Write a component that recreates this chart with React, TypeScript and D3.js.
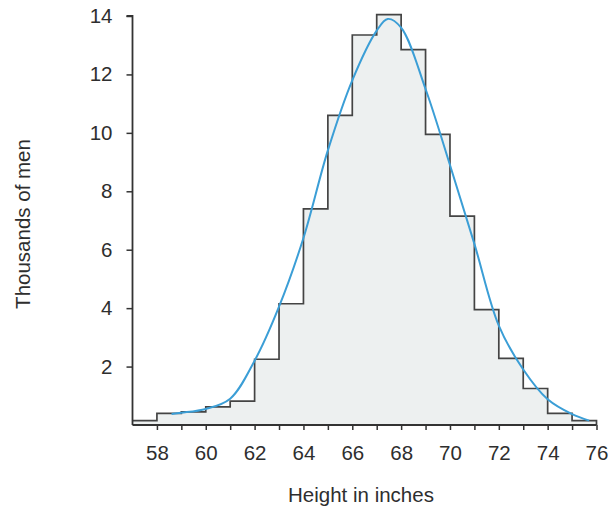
import React, { useRef, useEffect } from 'react';
import * as d3 from 'd3';

// histogram bins: lower edge (inches) and count (thousands of men)
const binStarts = [57, 58, 59, 60, 61, 62, 63, 64, 65, 66, 67, 68, 69, 70, 71, 72, 73, 74, 75];
const binCounts = [0.15, 0.4, 0.45, 0.62, 0.82, 2.25, 4.15, 7.4, 10.6, 13.35, 14.05, 12.85, 9.95, 7.15, 3.95, 2.28, 1.25, 0.4, 0.15];

// fitted normal curve
const curveX = [58.6, 59, 60, 61, 62, 63, 64, 65, 66, 67, 67.45, 68, 69, 70, 71, 72, 73, 74, 75, 75.7];
const curveY = [0.38, 0.42, 0.55, 0.9, 2.2, 4.05, 6.4, 9.4, 11.8, 13.5, 13.9, 13.6, 11.5, 8.9, 6.2, 3.4, 1.9, 0.88, 0.37, 0.15];

const xTicks = [58, 59, 60, 61, 62, 63, 64, 65, 66, 67, 68, 69, 70, 71, 72, 73, 74, 75, 76];
const xLabels = [58, 60, 62, 64, 66, 68, 70, 72, 74, 76];
const yTicks = [2, 4, 6, 8, 10, 12, 14];

const W = 613;
const H = 511;
const FONT = 'Liberation Sans, Arial, sans-serif';
const FS = '20.5px';
const INK = '#2e2e2e';

const App: React.FC = () => {
  const svgRef = useRef<SVGSVGElement | null>(null);

  useEffect(() => {
    if (!svgRef.current) return;
    const svg = d3.select(svgRef.current);
    svg.selectAll('*').remove();

    const x = d3.scaleLinear().domain([57, 76]).range([132.5, 596.5]);
    const y = d3.scaleLinear().domain([0, 14]).range([425, 16]);

    const steps: [number, number][] = binStarts.map((b, i) => [b, binCounts[i]]);
    steps.push([76, binCounts[binCounts.length - 1]]);

    // shaded area under the histogram
    const area = d3.area<[number, number]>()
      .x(d => x(d[0]))
      .y0(y(0))
      .y1(d => y(d[1]))
      .curve(d3.curveStepAfter);
    svg.append('path')
      .datum(steps)
      .attr('d', area)
      .attr('fill', '#edf0f0');

    // histogram outline
    const outline: [number, number][] = [...steps, [76, 0]];
    const stepLine = d3.line<[number, number]>()
      .x(d => x(d[0]))
      .y(d => y(d[1]))
      .curve(d3.curveStepAfter);
    svg.append('path')
      .datum(outline)
      .attr('d', stepLine)
      .attr('fill', 'none')
      .attr('stroke', '#444')
      .attr('stroke-width', 1.7);

    // normal curve
    const pts: [number, number][] = curveX.map((v, i) => [v, curveY[i]]);
    const smooth = d3.line<[number, number]>()
      .x(d => x(d[0]))
      .y(d => y(d[1]))
      .curve(d3.curveCatmullRom.alpha(0.5));
    svg.append('path')
      .datum(pts)
      .attr('d', smooth)
      .attr('fill', 'none')
      .attr('stroke', '#3b9ed6')
      .attr('stroke-width', 2);

    // y axis
    const yAxis = d3.axisLeft(y).tickValues(yTicks).tickSize(6).tickPadding(14).tickFormat(d3.format('d'));
    const yg = svg.append('g')
      .attr('transform', `translate(${x(57)},0)`)
      .call(yAxis);
    yg.select('.domain').attr('d', `M-6,${y(14)}H0V${y(0)}`).attr('stroke', '#333').attr('stroke-width', 1.8);
    yg.selectAll('.tick line').attr('stroke', '#333').attr('stroke-width', 1.5);
    yg.selectAll('.tick text')
      .attr('fill', INK)
      .style('font-family', FONT)
      .style('font-size', FS);

    // x axis
    const xAxis = d3.axisBottom(x).tickValues(xTicks).tickSize(5).tickPadding(15)
      .tickFormat((d: any) => (xLabels.includes(d) ? String(d) : ''));
    const xg = svg.append('g')
      .attr('transform', `translate(0,${y(0)})`)
      .call(xAxis);
    xg.select('.domain').attr('d', `M${x(57)},0H${x(76)}`).attr('stroke', '#333').attr('stroke-width', 1.8);
    xg.selectAll('.tick line').attr('stroke', '#333').attr('stroke-width', 1.5);
    xg.selectAll('.tick text')
      .attr('fill', INK)
      .style('font-family', FONT)
      .style('font-size', FS);

    svg.append('text')
      .attr('x', 361)
      .attr('y', 502)
      .attr('text-anchor', 'middle')
      .attr('fill', INK)
      .style('font-family', FONT)
      .style('font-size', FS)
      .text('Height in inches');

    svg.append('text')
      .attr('transform', `translate(30,224) rotate(-90)`)
      .attr('text-anchor', 'middle')
      .attr('fill', INK)
      .style('font-family', FONT)
      .style('font-size', FS)
      .text('Thousands of men');
  }, []);

  return (
    <svg
      ref={svgRef}
      width={W}
      height={H}
      style={{ position: 'absolute', left: 0, top: 0, background: '#fff' }}
    />
  );
};

export default App;
